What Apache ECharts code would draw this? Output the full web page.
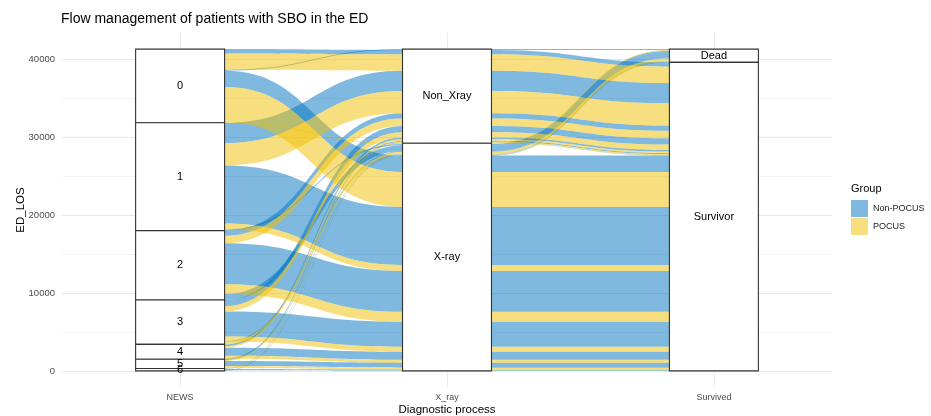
<!DOCTYPE html>
<html><head><meta charset="utf-8">
<script src="https://cdn.jsdelivr.net/npm/echarts@6/dist/echarts.min.js"></script>
<style>html,body{margin:0;padding:0;background:#fff}#c{width:931px;height:416px}</style>
</head><body><div id="c"></div>
<script>
// ---------- data ----------
const axisNames = ['NEWS', 'X_ray', 'Survived'];
const newsLevels = ['0', '1', '2', '3', '4', '5', '6'];
const xrayLevels = ['Non_Xray', 'X-ray'];
const survLevels = ['Dead', 'Survivor'];
const groupNames = ['Non-POCUS', 'POCUS'];
const groupColors = ['rgba(0,115,194,0.5)', 'rgba(239,192,0,0.5)'];
const yTicks = [0, 10000, 20000, 30000, 40000];

// one entry per alluvium (index into the level arrays above)
const flowNews  = [0, 0,0,1,1,2,2,3,3,4,4,5,5,6,6, 0,1,2,3,3,4,5,6, 0,0,1,1,2,2,3,3,4,4,5,5,6,6];
const flowXray  = [0, 0,0,0,0,0,0,0,0,0,0,0,0,0,0, 1,1,1,1,1,1,1,1, 1,1,1,1,1,1,1,1,1,1,1,1,1,1];
const flowSurv  = [0, 1,1,1,1,1,1,1,1,1,1,1,1,1,1, 0,0,0,0,0,0,0,0, 1,1,1,1,1,1,1,1,1,1,1,1,1,1];
const flowGroup = [0, 0,1,0,1,0,1,0,1,0,1,0,1,0,1, 1,0,0,0,1,0,1,0, 0,1,0,1,0,1,0,1,0,1,0,1,0,1];
const flowValue = [120,
                   550,2100,2600,2870,650,980,800,680,220,200,120,120,40,30,
                   100,150,750,80,300,70,60,70,
                   2090,4490,7440,770,5240,1280,3200,640,1030,380,640,260,130,30];

// ---------- layout from data ----------
const n = flowValue.length;
const total = flowValue.reduce((a, b) => a + b, 0);
const strataLevels = [newsLevels, xrayLevels, survLevels];
const stratOf = [flowNews, flowXray, flowSurv];
const sortKeys = [
  i => [flowNews[i], flowXray[i], 1 - flowSurv[i], flowGroup[i]],
  i => [flowXray[i], flowSurv[i], flowNews[i], flowGroup[i]],
  i => [flowSurv[i], flowXray[i], flowNews[i], flowGroup[i]]
];
const pos = sortKeys.map(kf => {
  const idx = [...Array(n).keys()].sort((a, b) => {
    const ka = kf(a), kb = kf(b);
    for (let k = 0; k < ka.length; k++) if (ka[k] !== kb[k]) return ka[k] - kb[k];
    return a - b;
  });
  const top = [], bot = [];
  let y = total;
  idx.forEach(i => { top[i] = y; y -= flowValue[i]; bot[i] = y; });
  return { top, bot };
});

const halfW = 1 / 6;
const flowData = [[], []];
for (let i = 0; i < n; i++) {
  for (let s = 0; s < 2; s++) {
    flowData[flowGroup[i]].push([s + 1 + halfW, pos[s].top[i], pos[s].bot[i],
      s + 2 - halfW, pos[s + 1].top[i], pos[s + 1].bot[i]]);
  }
}
const strataData = [], strataText = [];
for (let a = 0; a < 3; a++) {
  strataLevels[a].forEach((lv, li) => {
    let t = -Infinity, b = Infinity;
    for (let i = 0; i < n; i++) if (stratOf[a][i] === li) { t = Math.max(t, pos[a].top[i]); b = Math.min(b, pos[a].bot[i]); }
    if (t > b) { strataData.push([a + 1, t, b, strataText.length]); strataText.push(lv); }
  });
}

// ---------- panel geometry ----------
const W = 931, H = 416;
const pL = 62, pR = 832, pT = 33, pB = 387;
const xMin = 0.5575, xMax = 3.4425;
const yMin = -0.05 * total, yMax = 1.05 * total;
const yPx = v => pB - (v - yMin) / (yMax - yMin) * (pB - pT);
const xPx = v => pL + (v - xMin) / (xMax - xMin) * (pR - pL);

function flowItem(params, api) {
  const a = api.coord([api.value(0), api.value(1)]);
  const b = api.coord([api.value(0), api.value(2)]);
  const c = api.coord([api.value(3), api.value(4)]);
  const d = api.coord([api.value(3), api.value(5)]);
  const xm = (a[0] + c[0]) / 2;
  const p = `M${a[0]} ${a[1]} C${xm} ${a[1]} ${xm} ${c[1]} ${c[0]} ${c[1]} L${d[0]} ${d[1]} C${xm} ${d[1]} ${xm} ${b[1]} ${b[0]} ${b[1]} Z`;
  return { type: 'path', shape: { pathData: p }, style: { fill: api.visual('color') } };
}
function strataItem(params, api) {
  const x = api.value(0);
  const p1 = api.coord([x - halfW, api.value(1)]);
  const p2 = api.coord([x + halfW, api.value(2)]);
  return {
    type: 'group', children: [
      { type: 'rect', shape: { x: p1[0], y: p1[1], width: p2[0] - p1[0], height: p2[1] - p1[1] },
        style: { fill: '#fff', stroke: '#333', lineWidth: 1.1 } },
      { type: 'text', style: { text: strataText[api.value(3)], x: (p1[0] + p2[0]) / 2, y: (p1[1] + p2[1]) / 2,
        align: 'center', verticalAlign: 'middle', fontSize: 11, fill: '#000', fontFamily: 'Liberation Sans, Arial, sans-serif' } }
    ]
  };
}

const chart = echarts.init(document.getElementById('c'), null, { renderer: 'canvas' });
chart.setOption({
  animation: false,
  textStyle: { fontFamily: 'Liberation Sans, Arial, sans-serif' },
  title: [
    { text: 'Flow management of patients with SBO in the ED', left: 56, top: 7,
      textStyle: { fontSize: 14, fontWeight: 'normal', color: '#000' } },
    { text: 'Group', left: 846, top: 178, textStyle: { fontSize: 11, fontWeight: 'normal', color: '#000' } }
  ],
  legend: {
    data: groupNames, orient: 'vertical', left: 846, top: 195, itemWidth: 17, itemHeight: 17, itemGap: 1,
    icon: 'rect', textStyle: { fontSize: 9, color: '#222' }, selectedMode: false
  },
  grid: [
    { left: pL, right: W - pR, top: pT, bottom: H - pB, outerBoundsMode: 'none' },
    { left: pL, right: W - pR, top: yPx(40000), bottom: H - yPx(0), outerBoundsMode: 'none' },
    { left: xPx(1), right: W - xPx(3), top: pT, bottom: H - pB, outerBoundsMode: 'none' }
  ],
  xAxis: [
    { gridIndex: 0, type: 'value', min: xMin, max: xMax, show: false },
    { gridIndex: 1, type: 'value', min: 0, max: 1, show: false },
    { gridIndex: 2, type: 'category', data: axisNames, boundaryGap: false,
      axisLine: { show: false }, axisTick: { show: false },
      axisLabel: { fontSize: 9, color: '#4d4d4d', margin: 6 },
      splitLine: { show: true, lineStyle: { color: '#ebebeb', width: 1 } },
      name: 'Diagnostic process', nameLocation: 'middle', nameGap: 17, nameMoveOverlap: false,
      nameTextStyle: { fontSize: 11.5, color: '#000' } }
  ],
  yAxis: [
    { gridIndex: 0, type: 'value', min: yMin, max: yMax, axisLine: { show: false }, axisTick: { show: false },
      axisLabel: { show: false }, splitLine: { show: false },
      name: 'ED_LOS', nameLocation: 'middle', nameGap: 35, nameRotate: 90, nameMoveOverlap: false,
      nameTextStyle: { fontSize: 11.5, color: '#000' } },
    { gridIndex: 1, type: 'value', min: 0, max: 40000, interval: 5000,
      axisLine: { show: false }, axisTick: { show: false },
      axisLabel: { fontSize: 9.5, color: '#4d4d4d', margin: 7, formatter: v => (yTicks.indexOf(v) >= 0 ? String(v) : '') },
      splitLine: { show: true, lineStyle: { color: ['#e8e8e8', '#f3f3f3'], width: 1 } } },
    { gridIndex: 2, type: 'value', min: 0, max: 1, show: false }
  ],
  series: [
    { name: groupNames[0], type: 'custom', xAxisIndex: 0, yAxisIndex: 0, renderItem: flowItem,
      itemStyle: { color: groupColors[0] }, data: flowData[0], z: 2, silent: true },
    { name: groupNames[1], type: 'custom', xAxisIndex: 0, yAxisIndex: 0, renderItem: flowItem,
      itemStyle: { color: groupColors[1] }, data: flowData[1], z: 2, silent: true },
    { name: 'strata', type: 'custom', xAxisIndex: 0, yAxisIndex: 0, renderItem: strataItem,
      data: strataData, z: 3, silent: true }
  ]
});
</script></body></html>
